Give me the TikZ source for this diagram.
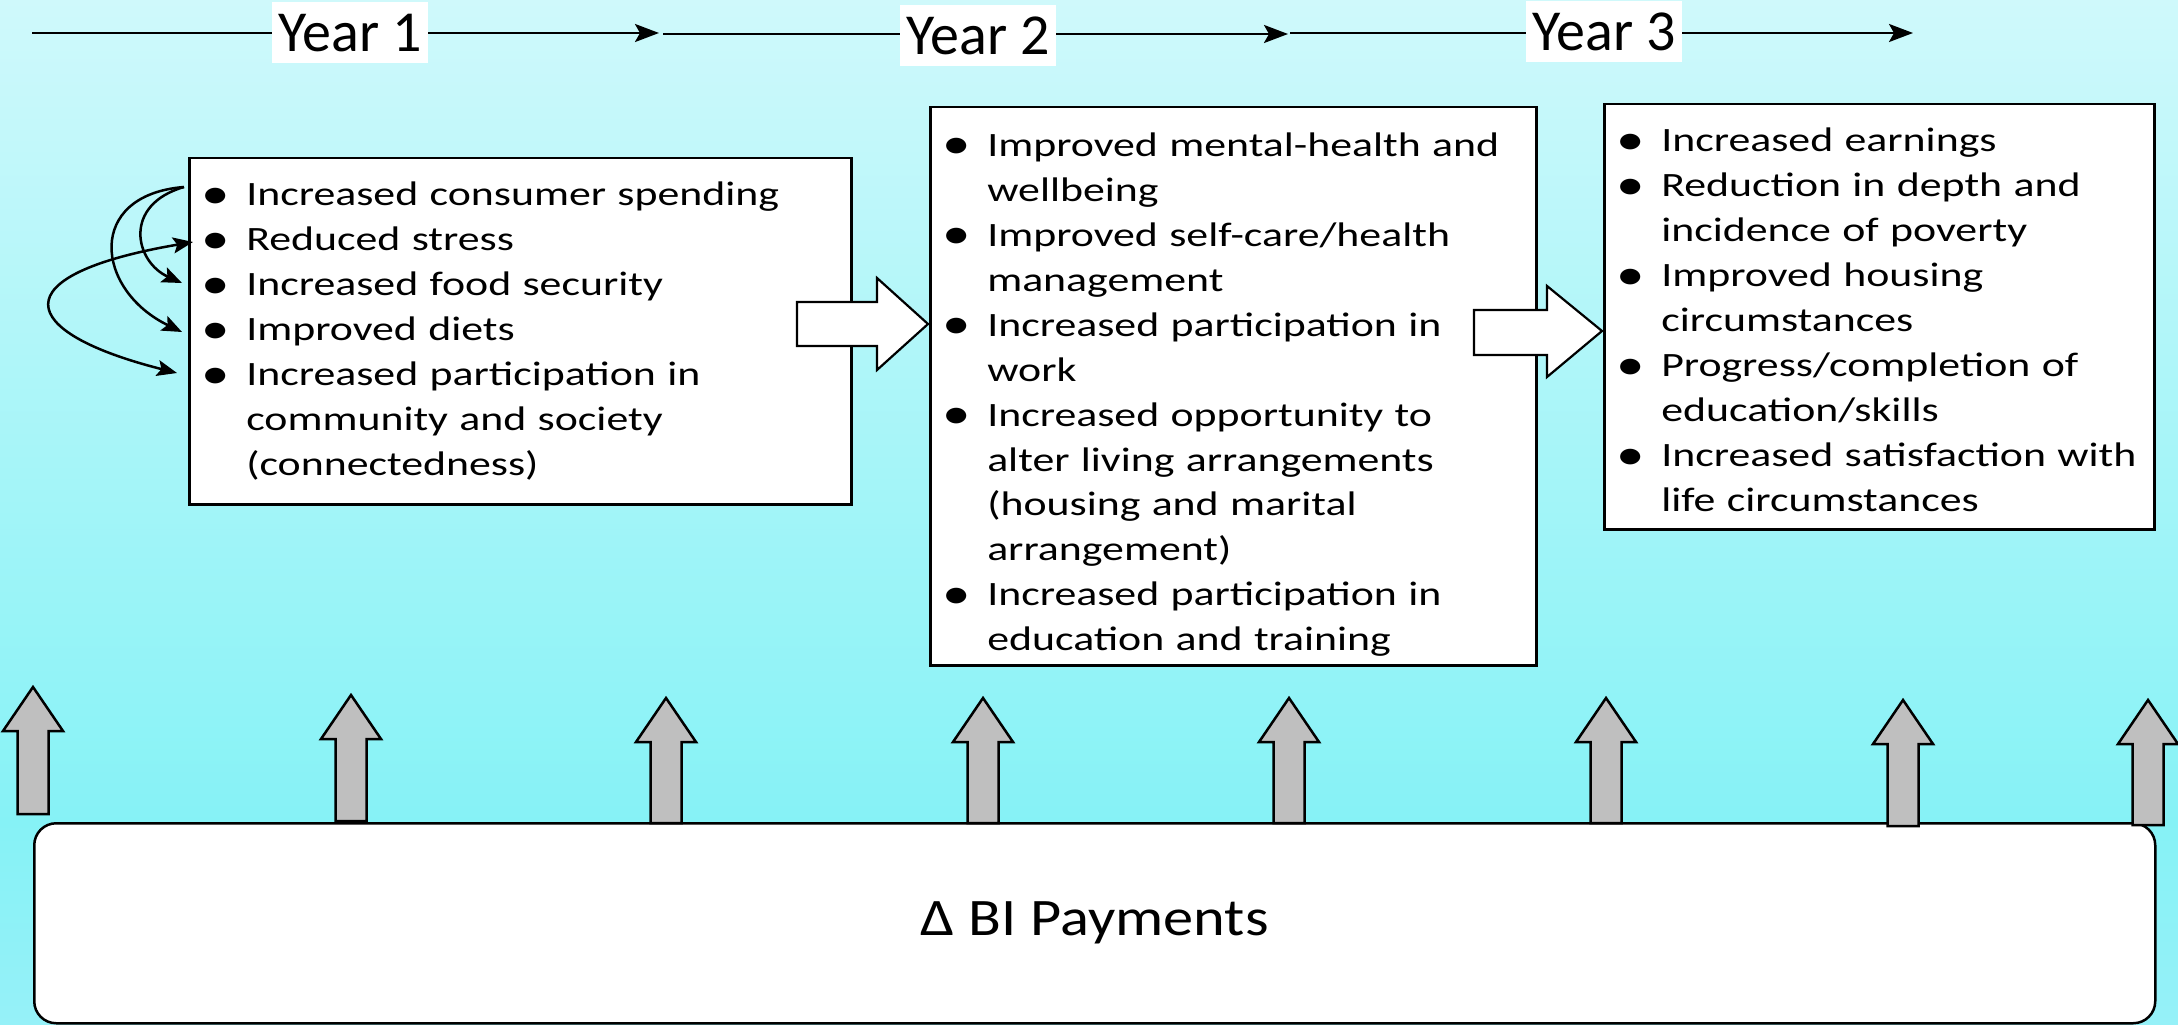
\documentclass[tikz,border=0pt]{standalone}
\usepackage{graphicx}
\usepackage{fontspec}
\setmainfont{Carlito}
\newfontfamily\boxfont[FakeStretch=1.285]{Carlito}
\newfontfamily\payfont[FakeStretch=1.145]{Carlito}
\usetikzlibrary{arrows.meta}

\definecolor{bgtop}{HTML}{CFF9FB}
\definecolor{bgmid}{HTML}{86F2F6}
\definecolor{bgbot}{HTML}{96F1F8}
\definecolor{upgray}{HTML}{BFBFBF}

% one bulleted line and one continuation line of a list
\newcommand{\bigdot}{\hspace*{-1mm}\raisebox{-0.8pt}{\scalebox{1.3}{\textbullet}}}
\newcommand{\bitem}[1]{\mbox{\makebox[3.5mm][l]{\bigdot}#1}}
\newcommand{\cont}[1]{\mbox{\hspace*{3.5mm}#1}}

\begin{document}
\begin{tikzpicture}[x=0.1mm,y=-0.1mm,
  listbox/.style={draw, fill=white, line width=0.25mm, inner xsep=2.2mm,
    inner ysep=0pt, anchor=north west, align=left,
    font=\boxfont\fontsize{9.7pt}{12.8pt}\selectfont},
  yearlabel/.style={fill=white, inner sep=0pt, minimum width=15.6mm,
    minimum height=6.1mm, font=\fontsize{16.5pt}{18pt}\selectfont},
  timeline/.style={line width=0.25mm,
    -{Stealth[length=2.4mm,width=1.8mm,inset=0.5mm]}},
  linkarrow/.style={line width=0.25mm,
    >={Stealth[length=2mm,width=1.6mm,inset=0.4mm]}},
  blockarrow/.style={draw, fill=white, line width=0.22mm, line join=miter},
  uparrow/.style={draw, fill=upgray, line width=0.25mm, line join=miter},
]
\useasboundingbox (0,0) rectangle (2178,1024);

% background
\shade[top color=bgtop, bottom color=bgmid] (0,0) rectangle (2178,822);
\shade[top color=bgmid, bottom color=bgbot] (0,821) rectangle (2178,1024);

% timeline
\coordinate (t0) at (32,33);
\coordinate (t1) at (659,33);
\coordinate (t2) at (663,34);
\coordinate (t3) at (1288,34);
\coordinate (t4) at (1290,33);
\coordinate (t5) at (1913,33);
\draw[timeline] (t0) -- (t1);
\draw[timeline] (t2) -- (t3);
\draw[timeline] (t4) -- (t5);
\node[yearlabel] (y1) at (350,33) {Year 1};
\node[yearlabel] (y2) at (978,36) {Year 2};
\node[yearlabel] (y3) at (1604,32) {Year 3};

% outcome boxes
\node[listbox, minimum width=66.2mm, minimum height=34.6mm,
  text width=61.8mm] (b1) at (188,157) {%
\bitem{Increased consumer spending}\\
\bitem{Reduced stress}\\
\bitem{Increased food security}\\
\bitem{Improved diets}\\
\bitem{Increased participation in}\\
\cont{community and society}\\
\cont{(connectedness)}};

\node[listbox, minimum width=60.6mm, minimum height=55.8mm,
  text width=56.2mm] (b2) at (929,106) {%
\rule{0pt}{11.5pt}\bitem{Improved mental-health and}\\
\cont{wellbeing}\\
\bitem{Improved self-care/health}\\
\cont{management}\\
\bitem{Increased participation in}\\
\cont{work}\\
\bitem{Increased opportunity to}\\
\cont{alter living arrangements}\\
\cont{(housing and marital}\\
\cont{arrangement)}\\
\bitem{Increased participation in}\\
\cont{education and training}};

\node[listbox, minimum width=55.0mm, minimum height=42.5mm,
  text width=50.6mm] (b3) at (1603,103) {%
\rule{0pt}{8.7pt}\bitem{Increased earnings}\\
\bitem{Reduction in depth and}\\
\cont{incidence of poverty}\\
\bitem{Improved housing}\\
\cont{circumstances}\\
\bitem{Progress/completion of}\\
\cont{education/skills}\\
\bitem{Increased satisfaction with}\\
\cont{life circumstances}};

% links between the year-1 outcomes
\coordinate (s1) at (184,187);
\coordinate (e2) at (193,242);
\coordinate (e3) at (182,283);
\coordinate (e4) at (182,332);
\coordinate (e5) at (177,373);
\draw[linkarrow, ->] (s1) .. controls (122,205) and (135,262) .. (e3);
\draw[linkarrow, ->] (s1) .. controls (85,195) and (95,290) .. (e4);
\draw[linkarrow, <->] (e2) .. controls (0,275) and (15,332) .. (e5);

% block arrows between the years
\draw[blockarrow] (797,302) -- (877,302) -- (877,278) -- (928,324)
  -- (877,370) -- (877,346) -- (797,346) -- cycle;
\draw[blockarrow] (1474,310) -- (1547,310) -- (1547,286) -- (1602,331)
  -- (1547,377) -- (1547,355) -- (1474,355) -- cycle;

% payments bar
\node[draw, fill=white, rounded corners=2.2mm, line width=0.25mm,
  anchor=north west, minimum width=212.1mm, minimum height=20mm,
  font=\payfont\fontsize{15pt}{18pt}\selectfont] (pay) at (33,822)
  {Δ BI Payments};

% payment arrows
\foreach \x/\t/\b in {33/687/814, 351/695/821, 666/698/823, 983/698/823,
    1289/698/823, 1606/698/823, 1903/700/826, 2148/700/825}
  \draw[uparrow] ({\x-15.5},\b) -- ({\x-15.5},{\t+44}) -- ({\x-30},{\t+44})
    -- (\x,\t) -- ({\x+30},{\t+44}) -- ({\x+15.5},{\t+44})
    -- ({\x+15.5},\b) -- cycle;
\end{tikzpicture}
\end{document}
